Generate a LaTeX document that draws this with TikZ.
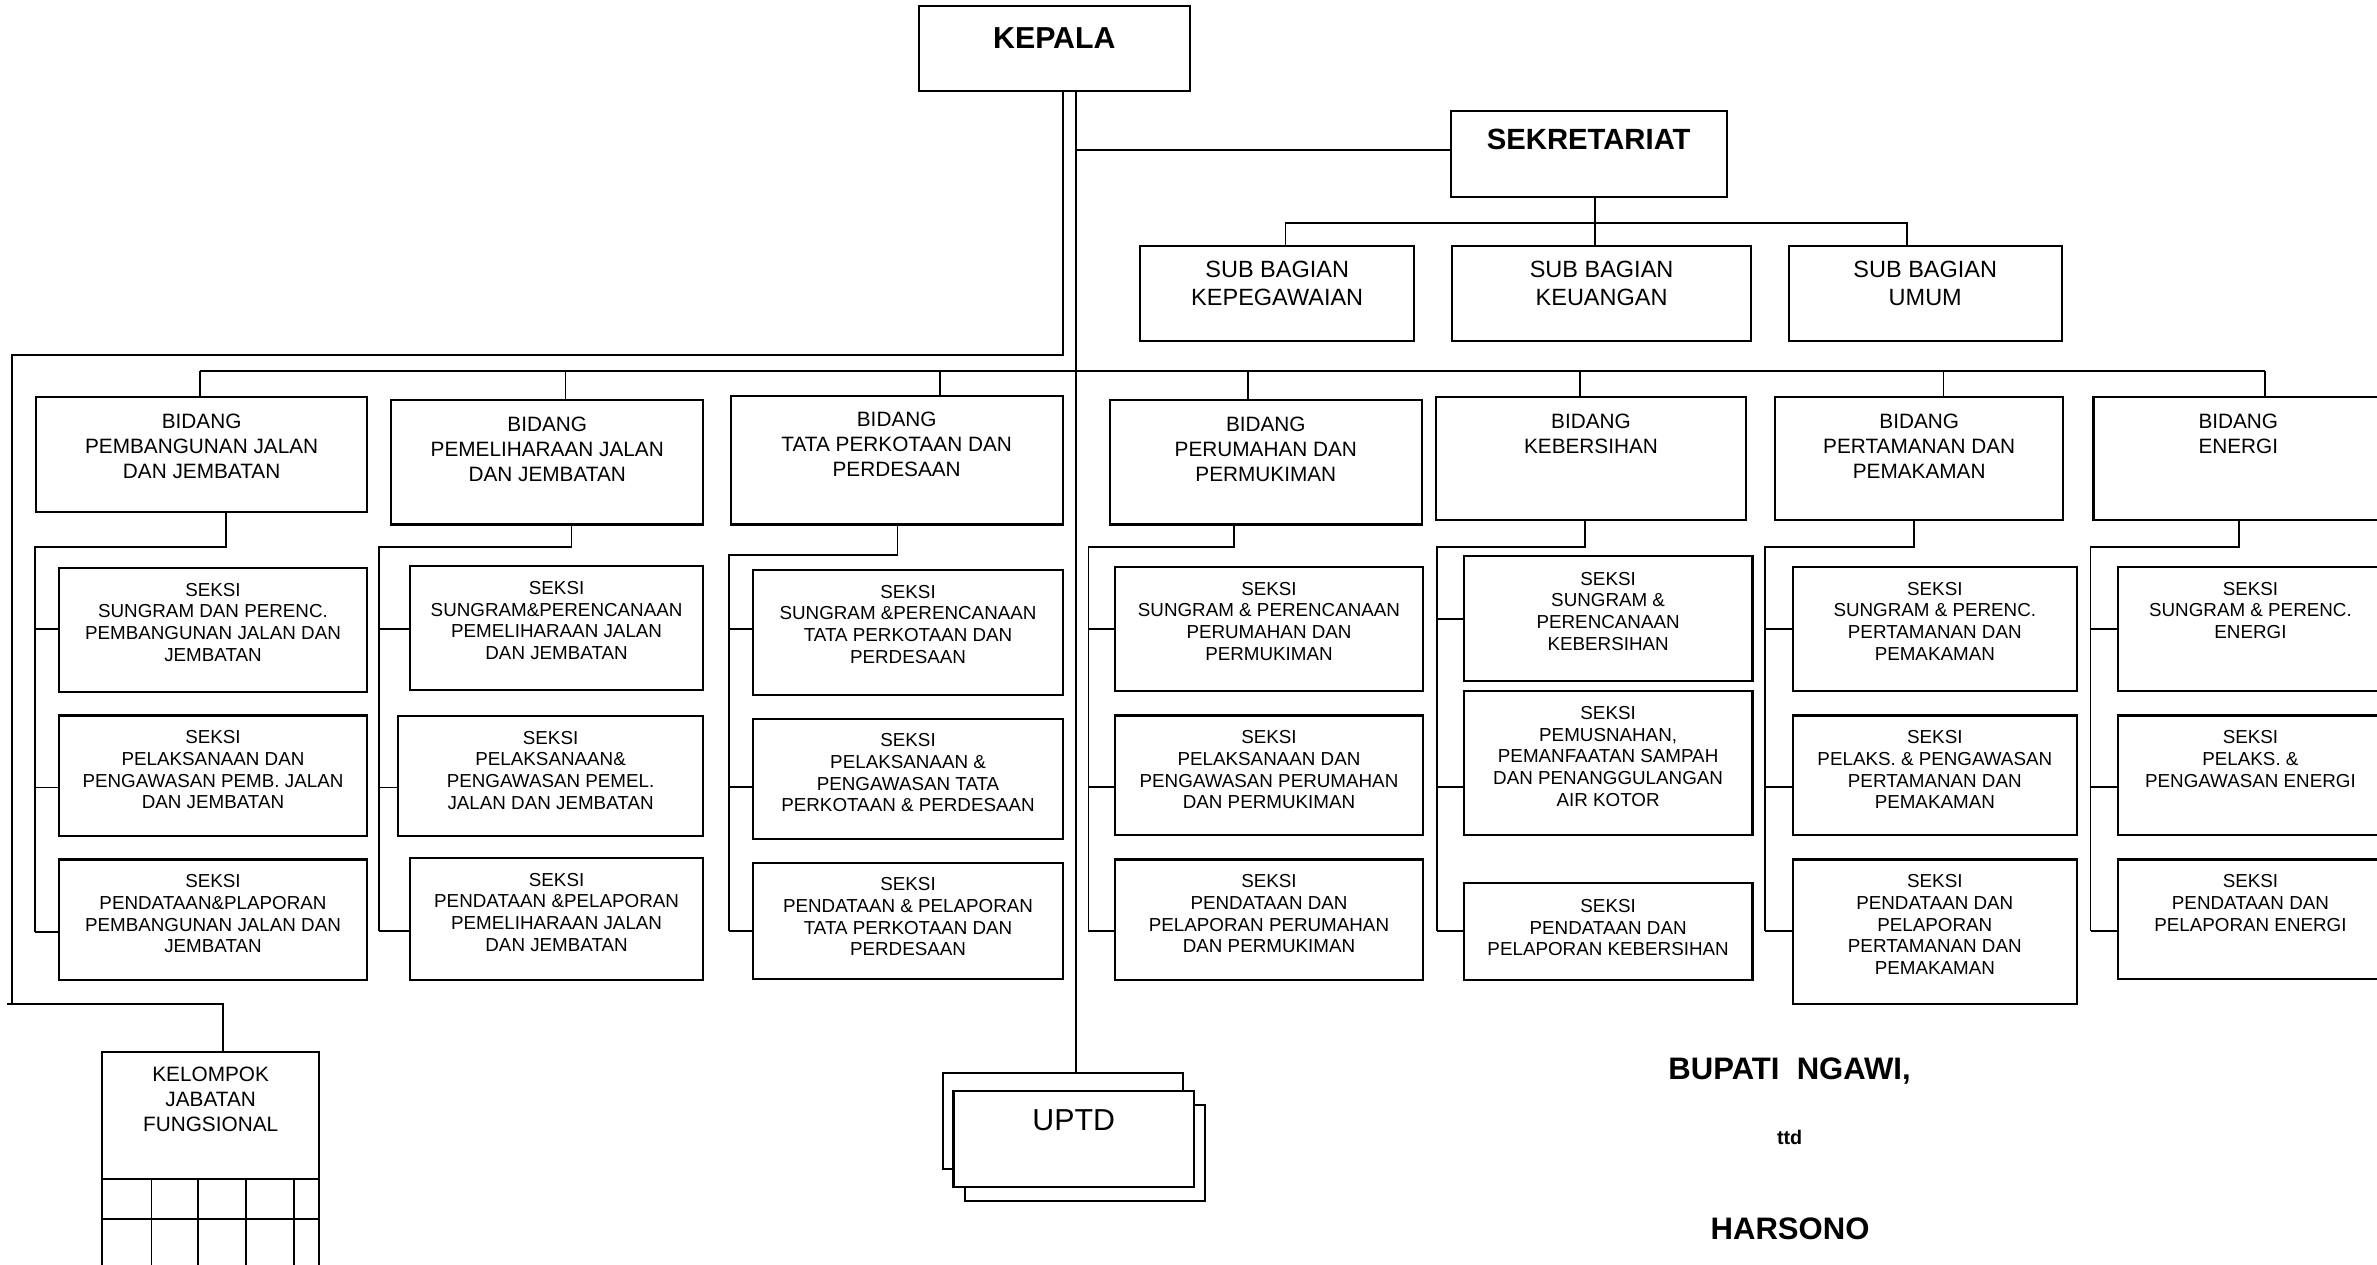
\documentclass[tikz,border=0pt]{standalone}
\usepackage{fontspec}
\setmainfont{Liberation Sans}
\usetikzlibrary{calc}

\tikzset{
  box/.style={draw, line width=1.4pt, fill=white, inner sep=0pt, outer sep=0pt, anchor=north west},
  conn/.style={line width=1.25pt},
  gridline/.style={line width=1.1pt},
  lbl/.style={align=center, inner sep=0pt, outer sep=0pt},
  ftitle/.style={font=\fontsize{20}{24}\selectfont\bfseries},
  fsekre/.style={font=\fontsize{19.3}{23}\selectfont\bfseries},
  fsub/.style={font=\fontsize{15.5}{18}\selectfont},
  fbid/.style={font=\fontsize{13.7}{16.5}\selectfont},
  fsek/.style={font=\fontsize{12.4}{14.3}\selectfont},
  fuptd/.style={font=\fontsize{20}{24}\selectfont},
  fsig/.style={font=\fontsize{20.5}{24}\selectfont\bfseries, inner sep=0pt, anchor=base},
  fttd/.style={font=\fontsize{13}{16}\selectfont\bfseries, inner sep=0pt, anchor=base},
}

% box from (x1,y1) to (x2,y2); text starts dy below the top edge
\newcommand\orgbox[8]{%
  \node[box, minimum width={#4-#2}, minimum height={#5-#3}] (#1) at (#2,#3) {};
  \node[lbl, #7, anchor=north] (#1-t) at ([yshift=-#6pt]#1.north) {#8};
}

% seksi column: drop from the bidang, horizontal run, spine and three stubs
\newcommand\seksicol[8]{%
  \coordinate (#2h) at (#3,#4);
  \coordinate (#2v) at (#5,#4);
  \coordinate (#2ya) at (#5,#6);
  \coordinate (#2yb) at (#5,#7);
  \coordinate (#2yc) at (#5,#8);
  \draw[conn] (#1.south -| #2h) -- (#2h) -- (#2v) -- (#2yc);
  \draw[conn] (#2ya) -- (#2ya -| #2a.west);
  \draw[conn] (#2yb) -- (#2yb -| #2b.west);
  \draw[conn] (#2yc) -- (#2yc -| #2c.west);
}

\begin{document}
\begin{tikzpicture}[x=1pt, y=-1pt]
\useasboundingbox (0,0) rectangle (1568,834);
\fill[white] (0,0) rectangle (1568,834);
\clip (0,0) rectangle (1568,834);

% ---- head and secretariat ----
\orgbox{kepala}{606}{4}{785}{60}{14}{ftitle}{KEPALA}
\orgbox{sekre}{957}{73}{1139}{130}{12.2}{fsekre}{SEKRETARIAT}
\orgbox{sbA}{752}{162}{933}{225}{10.5}{fsub}{SUB BAGIAN\\KEPEGAWAIAN}
\orgbox{sbB}{958}{162}{1155}{225}{10.5}{fsub}{SUB BAGIAN\\KEUANGAN}
\orgbox{sbC}{1180}{162}{1360}{225}{10.5}{fsub}{SUB BAGIAN\\UMUM}

% ---- bidang row ----
\orgbox{bd1}{24}{262}{242}{338}{11}{fbid}{BIDANG\\PEMBANGUNAN JALAN\\DAN JEMBATAN}
\orgbox{bd2}{258}{264}{464}{346}{11}{fbid}{BIDANG\\PEMELIHARAAN JALAN\\DAN JEMBATAN}
\orgbox{bd3}{482}{261}{701}{346}{11}{fbid}{BIDANG\\TATA PERKOTAAN DAN\\PERDESAAN}
\orgbox{bd4}{732}{264}{938}{346}{11}{fbid}{BIDANG\\PERUMAHAN DAN\\PERMUKIMAN}
\orgbox{bd5}{947}{262}{1152}{343}{11}{fbid}{BIDANG\\KEBERSIHAN}
\orgbox{bd6}{1171}{262}{1361}{343}{11}{fbid}{BIDANG\\PERTAMANAN DAN\\PEMAKAMAN}
\orgbox{bd7}{1381}{262}{1572}{343}{11}{fbid}{BIDANG\\ENERGI}

% ---- seksi boxes ----
\orgbox{s1a}{39}{374.5}{242}{456.7}{10}{fsek}{SEKSI\\SUNGRAM DAN PERENC.\\PEMBANGUNAN JALAN DAN\\JEMBATAN}
\orgbox{s1b}{39}{472}{242}{551.5}{10}{fsek}{SEKSI\\PELAKSANAAN DAN\\PENGAWASAN PEMB. JALAN\\DAN JEMBATAN}
\orgbox{s1c}{39}{567}{242}{646.6}{10}{fsek}{SEKSI\\PENDATAAN\&PLAPORAN\\PEMBANGUNAN JALAN DAN\\JEMBATAN}

\orgbox{s2a}{270.7}{373.4}{463.6}{455}{10}{fsek}{SEKSI\\SUNGRAM\&PERENCANAAN\\PEMELIHARAAN JALAN\\DAN JEMBATAN}
\orgbox{s2b}{262.8}{472.3}{463.6}{551.2}{10}{fsek}{SEKSI\\PELAKSANAAN\&\\PENGAWASAN PEMEL.\\JALAN DAN JEMBATAN}
\orgbox{s2c}{270.7}{566}{463.6}{646.4}{10}{fsek}{SEKSI\\PENDATAAN \&PELAPORAN\\PEMELIHARAAN JALAN\\DAN JEMBATAN}

\orgbox{s3a}{497}{376}{701}{458.6}{10}{fsek}{SEKSI\\SUNGRAM \&PERENCANAAN\\TATA PERKOTAAN DAN\\PERDESAAN}
\orgbox{s3b}{497}{474}{701}{553.6}{10}{fsek}{SEKSI\\PELAKSANAAN \&\\PENGAWASAN TATA\\PERKOTAAN \& PERDESAAN}
\orgbox{s3c}{497}{569}{701}{646}{10}{fsek}{SEKSI\\PENDATAAN \& PELAPORAN\\TATA PERKOTAAN DAN\\PERDESAAN}

\orgbox{s4a}{735.5}{374}{938.7}{456}{10}{fsek}{SEKSI\\SUNGRAM \& PERENCANAAN\\PERUMAHAN DAN\\PERMUKIMAN}
\orgbox{s4b}{735.5}{472}{938.7}{551}{10}{fsek}{SEKSI\\PELAKSANAAN DAN\\PENGAWASAN PERUMAHAN\\DAN PERMUKIMAN}
\orgbox{s4c}{735.5}{567}{938.7}{646.4}{10}{fsek}{SEKSI\\PENDATAAN DAN\\PELAPORAN PERUMAHAN\\DAN PERMUKIMAN}

\orgbox{s5a}{965.6}{366.8}{1156}{449}{10.5}{fsek}{SEKSI\\SUNGRAM \&\\PERENCANAAN\\KEBERSIHAN}
\orgbox{s5b}{965.6}{456}{1156}{551}{10}{fsek}{SEKSI\\PEMUSNAHAN,\\PEMANFAATAN SAMPAH\\DAN PENANGGULANGAN\\AIR KOTOR}
\orgbox{s5c}{965.6}{582.7}{1156}{646.4}{10.5}{fsek}{SEKSI\\PENDATAAN DAN\\PELAPORAN KEBERSIHAN}

\orgbox{s6a}{1182.8}{374}{1369.8}{456}{10}{fsek}{SEKSI\\SUNGRAM \& PERENC.\\PERTAMANAN DAN\\PEMAKAMAN}
\orgbox{s6b}{1182.8}{472}{1369.8}{551}{10}{fsek}{SEKSI\\PELAKS. \& PENGAWASAN\\PERTAMANAN DAN\\PEMAKAMAN}
\orgbox{s6c}{1182.8}{567}{1369.8}{662}{10}{fsek}{SEKSI\\PENDATAAN DAN\\PELAPORAN\\PERTAMANAN DAN\\PEMAKAMAN}

\orgbox{s7a}{1397}{374}{1572}{456}{10}{fsek}{SEKSI\\SUNGRAM \& PERENC.\\ENERGI}
\orgbox{s7b}{1397}{472}{1572}{551}{10}{fsek}{SEKSI\\PELAKS. \&\\PENGAWASAN ENERGI}
\orgbox{s7c}{1397}{567}{1572}{646}{10}{fsek}{SEKSI\\PENDATAAN DAN\\PELAPORAN ENERGI}

% ---- functional group ----
\orgbox{kjf}{67.3}{693.7}{210.6}{845}{10.3}{fbid}{KELOMPOK\\JABATAN\\FUNGSIONAL}
\coordinate (g1) at (67.3,777.7);
\coordinate (g2) at (67.3,804);
\draw[box] (g1) -- (g1 -| kjf.east);
\draw[box] (g2) -- (g2 -| kjf.east);
\foreach \gx [count=\i] in {100,130.6,162.4,194} {
  \coordinate (gv\i) at (\gx,777.7);
  \draw[gridline] (gv\i) -- (gv\i |- kjf.south);
}

% ---- UPTD (stacked cards) ----
\node[box, minimum width=158.5, minimum height=63.4] (uptdC) at (636.3,728.7) {};
\node[box, minimum width=158.5, minimum height=63.4] (uptdA) at (622,707.6) {};
\orgbox{uptd}{629}{719.5}{787.6}{783}{12.7}{fuptd}{UPTD}

% ---- connectors from the head ----
\coordinate (kA) at (701,234);
\coordinate (kB) at (8,234);
\coordinate (kC) at (8,662);
\coordinate (kC0) at (4.5,662);
\coordinate (kD) at (147,662);
\coordinate (kE) at (710,99);
\draw[conn] (kA |- kepala.south) -- (kA) -- (kB) -- (kC);
\draw[conn] (kC0) -- (kD) -- (kD |- kjf.north);
\draw[conn] (kE |- kepala.south) -- (kE |- uptdA.north);
\draw[conn] (kE) -- (kE -| sekre.west);

% secretariat to sub-sections
\coordinate (sj) at (1052,147);
\coordinate (sjL) at (848,147);
\coordinate (sjR) at (1258,147);
\draw[conn] (sj |- sekre.south) -- (sj |- sbB.north);
\draw[conn] (sjL |- sbA.north) -- (sjL) -- (sjR) -- (sjR |- sbC.north);

% bus to the bidang boxes
\foreach \n/\x in {1/132, 2/373, 3/620, 4/823, 5/1042, 6/1282, 7/1494} {
  \coordinate (bus\n) at (\x,245);
  \draw[conn] (bus\n) -- (bus\n |- bd\n.north);
}
\draw[conn] (bus1) -- (bus7);

% bidang to seksi
\seksicol{bd1}{s1}{149}{361}{23}{415}{519.5}{614.5}
\seksicol{bd2}{s2}{377}{361}{250}{415}{519.5}{614}
\seksicol{bd3}{s3}{592}{366}{481}{415}{519}{614}
\seksicol{bd4}{s4}{814}{361}{718}{415}{519}{614}
\seksicol{bd5}{s5}{1045.5}{361}{948}{408.5}{519}{614}
\seksicol{bd6}{s6}{1262.5}{361}{1164.5}{415}{519}{614}
\seksicol{bd7}{s7}{1477}{361}{1379}{415}{519}{614}

% ---- signature ----
\node[fsig] (bupati) at (1180.5,712.4) {BUPATI~~NGAWI,};
\node[fttd] (ttd) at (1180.5,755) {ttd};
\node[fsig] (harsono) at (1180.8,817.5) {HARSONO};
\end{tikzpicture}
\end{document}
